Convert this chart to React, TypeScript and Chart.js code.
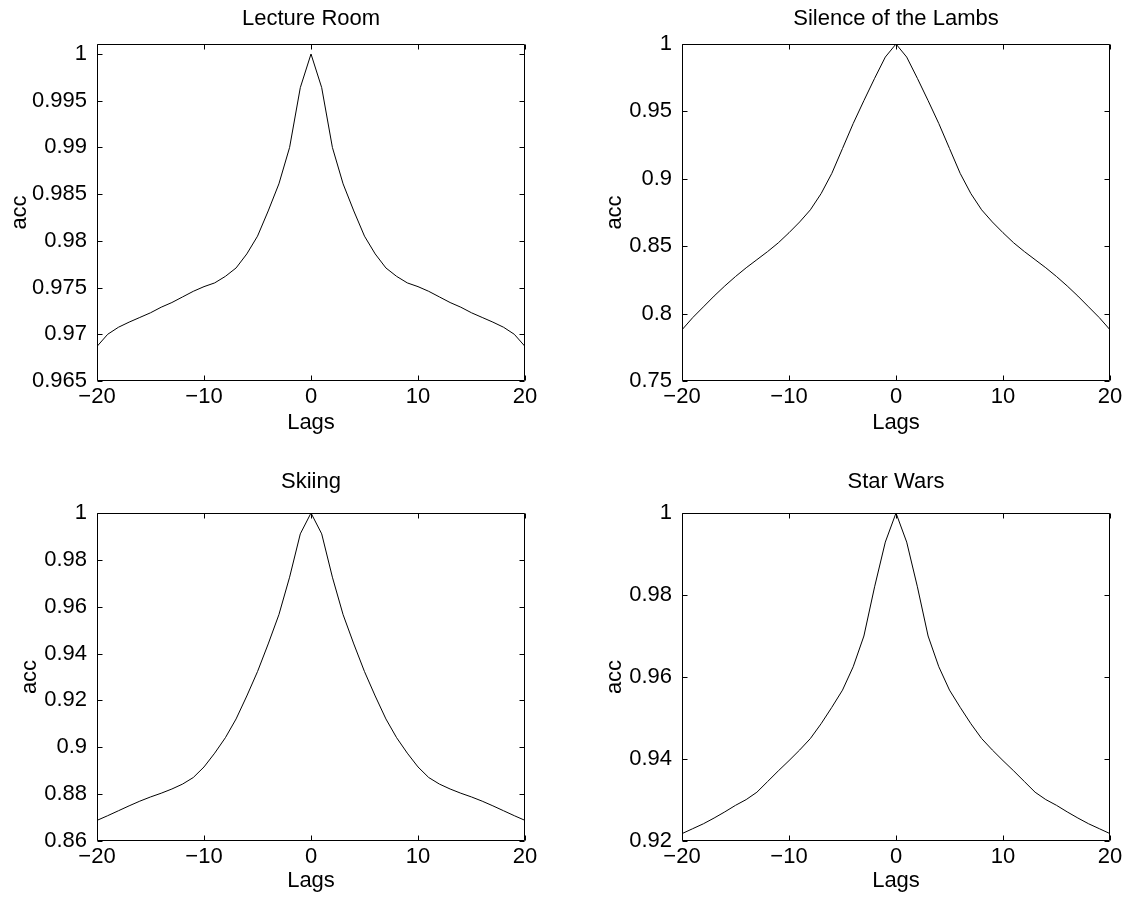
import React, { useEffect, useRef } from "react";
import { Chart, registerables } from "chart.js";

Chart.register(...registerables);

// ---------- data ----------
const lags = [
  -20, -19, -18, -17, -16, -15, -14, -13, -12, -11, -10, -9, -8, -7, -6, -5, -4, -3, -2, -1,
  0, 1, 2, 3, 4, 5, 6, 7, 8, 9, 10, 11, 12, 13, 14, 15, 16, 17, 18, 19, 20,
];

const lectureRoom = [
  0.9687, 0.97, 0.97075, 0.9713, 0.9718, 0.9723, 0.9729, 0.9734, 0.974, 0.9746, 0.9751,
  0.9755, 0.9762, 0.9771, 0.9786, 0.9805, 0.9832, 0.9861, 0.99, 0.9964,
  1.0,
  0.9964, 0.99, 0.9861, 0.9832, 0.9805, 0.9786, 0.9771, 0.9762, 0.9755, 0.9751,
  0.9746, 0.974, 0.9734, 0.9729, 0.9723, 0.9718, 0.9713, 0.97075, 0.97, 0.9687,
];

const silenceOfTheLambs = [
  0.788, 0.797, 0.805, 0.813, 0.8205, 0.8275, 0.834, 0.84, 0.846, 0.8525, 0.86,
  0.868, 0.877, 0.889, 0.904, 0.9225, 0.941, 0.958, 0.9745, 0.9903,
  1.0,
  0.9903, 0.9745, 0.958, 0.941, 0.9225, 0.904, 0.889, 0.877, 0.868, 0.86,
  0.8525, 0.846, 0.84, 0.834, 0.8275, 0.8205, 0.813, 0.805, 0.797, 0.788,
];

const skiing = [
  0.8688, 0.8708, 0.8729, 0.875, 0.877, 0.8788, 0.8804, 0.8822, 0.8843, 0.8871, 0.8916,
  0.8975, 0.9041, 0.9121, 0.9219, 0.9323, 0.9441, 0.9566, 0.9726, 0.9911,
  1.0,
  0.9911, 0.9726, 0.9566, 0.9441, 0.9323, 0.9219, 0.9121, 0.9041, 0.8975, 0.8916,
  0.8871, 0.8843, 0.8822, 0.8804, 0.8788, 0.877, 0.875, 0.8729, 0.8708, 0.8688,
];

const starWars = [
  0.9218, 0.923, 0.9242, 0.9256, 0.9271, 0.9287, 0.9301, 0.9319, 0.9345, 0.9371, 0.9396,
  0.9422, 0.945, 0.9486, 0.9526, 0.9568, 0.9625, 0.97, 0.982, 0.9929,
  1.0,
  0.9929, 0.982, 0.97, 0.9625, 0.9568, 0.9526, 0.9486, 0.945, 0.9422, 0.9396,
  0.9371, 0.9345, 0.9319, 0.9301, 0.9287, 0.9271, 0.9256, 0.9242, 0.923, 0.9218,
];

const xTickValues = [-20, -10, 0, 10, 20];
const xTickLabels = ["\u221220", "\u221210", "0", "10", "20"];

const lectureRoomYTicks = [0.965, 0.97, 0.975, 0.98, 0.985, 0.99, 0.995, 1];
const silenceYTicks = [0.75, 0.8, 0.85, 0.9, 0.95, 1];
const skiingYTicks = [0.86, 0.88, 0.9, 0.92, 0.94, 0.96, 0.98, 1];
const starWarsYTicks = [0.92, 0.94, 0.96, 0.98, 1];

const panelTitles = ["Lecture Room", "Silence of the Lambs", "Skiing", "Star Wars"];
const xLabel = "Lags";
const yLabel = "acc";

// ---------- styling / layout ----------
const FONT = '"Liberation Sans", Arial, Helvetica, sans-serif';
const FS = 22;

const framePlugin = {
  id: "matlabFrame",
  afterDatasetsDraw(chart: any) {
    const { ctx, chartArea: a, scales } = chart;
    const L = Math.round(a.left) + 0.5;
    const R = Math.round(a.right) - 0.5;
    const T = Math.round(a.top) + 0.5;
    const B = Math.round(a.bottom) - 0.5;
    const tl = 5;
    ctx.save();
    ctx.strokeStyle = "#000";
    ctx.lineWidth = 1;
    ctx.beginPath();
    ctx.rect(L, T, R - L, B - T);
    for (const t of scales.x.ticks) {
      const px = Math.round(scales.x.getPixelForValue(t.value)) + 0.5;
      ctx.moveTo(px, B);
      ctx.lineTo(px, B - tl);
      ctx.moveTo(px, T);
      ctx.lineTo(px, T + tl);
    }
    for (const t of scales.y.ticks) {
      const py = Math.round(scales.y.getPixelForValue(t.value)) + 0.5;
      ctx.moveTo(L, py);
      ctx.lineTo(L + tl, py);
      ctx.moveTo(R, py);
      ctx.lineTo(R - tl, py);
    }
    ctx.stroke();
    ctx.restore();
  },
};

type PanelProps = {
  title: string;
  values: number[];
  yTicks: number[];
  yMin: number;
  yMax: number;
  left: number;
  top: number;
  width: number;
  height: number;
  plotLeft: number;
  plotTop: number;
  plotRight: number;
  plotBottom: number;
  accX: number;
  titleY: number;
  lagsY: number;
};

function fmt(v: number) {
  return String(Number(v.toFixed(4)));
}

function Panel(p: PanelProps) {
  const ref = useRef<HTMLCanvasElement | null>(null);
  useEffect(() => {
    if (!ref.current) return;
    const yAxisWidth = p.plotLeft - p.left;
    const padRight = p.left + p.width - p.plotRight;
    const titlePadTop = p.titleY - p.top - FS / 2;
    const titlePadBottom = p.plotTop - p.top - FS - titlePadTop;
    const xAxisHeight = p.top + p.height - p.plotBottom;
    const lagsPadBottom = p.top + p.height - p.lagsY - FS / 2;
    const accPadTop = p.accX - p.left - FS / 2;

    const chart = new Chart(ref.current, {
      type: "line",
      data: {
        datasets: [
          {
            data: lags.map((x, i) => ({ x, y: p.values[i] })),
            borderColor: "#000",
            borderWidth: 1,
            pointRadius: 0,
            tension: 0,
            fill: false,
          },
        ],
      },
      options: {
        animation: false,
        responsive: false,
        devicePixelRatio: 1,
        layout: { padding: { left: 0, right: padRight, top: 0, bottom: 0 } },
        plugins: {
          legend: { display: false },
          tooltip: { enabled: false },
          title: {
            display: true,
            text: p.title,
            fullSize: false,
            color: "#000",
            font: { family: FONT, size: FS, weight: "normal", lineHeight: 1 },
            padding: { top: titlePadTop, bottom: titlePadBottom },
          },
        },
        scales: {
          x: {
            type: "linear",
            min: -20,
            max: 20,
            grid: { display: false, drawTicks: false },
            border: { display: false },
            afterBuildTicks: (axis: any) => {
              axis.ticks = xTickValues.map((v) => ({ value: v }));
            },
            afterFit: (scale: any) => {
              scale.height = xAxisHeight;
            },
            ticks: {
              color: "#000",
              padding: 5,
              maxRotation: 0,
              autoSkip: false,
              font: { family: FONT, size: FS, lineHeight: 1 },
              callback: (v: any) => {
                const i = xTickValues.indexOf(Number(v));
                return i >= 0 ? xTickLabels[i] : "";
              },
            },
            title: {
              display: true,
              text: xLabel,
              color: "#000",
              font: { family: FONT, size: FS, lineHeight: 1 },
              padding: { top: 0, bottom: lagsPadBottom },
            },
          },
          y: {
            type: "linear",
            min: p.yMin,
            max: p.yMax,
            grid: { display: false, drawTicks: false },
            border: { display: false },
            afterBuildTicks: (axis: any) => {
              axis.ticks = p.yTicks.map((v) => ({ value: v }));
            },
            afterFit: (scale: any) => {
              scale.width = yAxisWidth;
            },
            ticks: {
              color: "#000",
              padding: 10,
              autoSkip: false,
              font: { family: FONT, size: FS, lineHeight: 1 },
              callback: (v: any) => fmt(Number(v)),
            },
            title: {
              display: true,
              text: yLabel,
              color: "#000",
              font: { family: FONT, size: FS, lineHeight: 1 },
              padding: { top: accPadTop, bottom: 0 },
            },
          },
        },
      },
      plugins: [framePlugin],
    } as any);
    return () => chart.destroy();
  }, []);

  return (
    <canvas
      ref={ref}
      width={p.width}
      height={p.height}
      style={{
        position: "absolute",
        left: p.left,
        top: p.top,
        width: p.width,
        height: p.height,
      }}
    />
  );
}

export default function App() {
  return (
    <div
      style={{
        position: "absolute",
        left: 0,
        top: 0,
        width: 1128,
        height: 905,
        background: "#fff",
        overflow: "hidden",
      }}
    >
      <Panel
        title={panelTitles[0]}
        values={lectureRoom}
        yTicks={lectureRoomYTicks}
        yMin={0.965}
        yMax={1.00107}
        left={0}
        top={0}
        width={564}
        height={452}
        plotLeft={97}
        plotTop={44}
        plotRight={525}
        plotBottom={381}
        accX={20}
        titleY={19}
        lagsY={423}
      />
      <Panel
        title={panelTitles[1]}
        values={silenceOfTheLambs}
        yTicks={silenceYTicks}
        yMin={0.75}
        yMax={1}
        left={564}
        top={0}
        width={564}
        height={452}
        plotLeft={682}
        plotTop={44}
        plotRight={1110}
        plotBottom={381}
        accX={615}
        titleY={19}
        lagsY={423}
      />
      <Panel
        title={panelTitles[2]}
        values={skiing}
        yTicks={skiingYTicks}
        yMin={0.86}
        yMax={1}
        left={0}
        top={452}
        width={564}
        height={453}
        plotLeft={97}
        plotTop={513}
        plotRight={525}
        plotBottom={841}
        accX={30}
        titleY={482}
        lagsY={881}
      />
      <Panel
        title={panelTitles[3]}
        values={starWars}
        yTicks={starWarsYTicks}
        yMin={0.92}
        yMax={1}
        left={564}
        top={452}
        width={564}
        height={453}
        plotLeft={682}
        plotTop={513}
        plotRight={1110}
        plotBottom={841}
        accX={615}
        titleY={482}
        lagsY={881}
      />
    </div>
  );
}
